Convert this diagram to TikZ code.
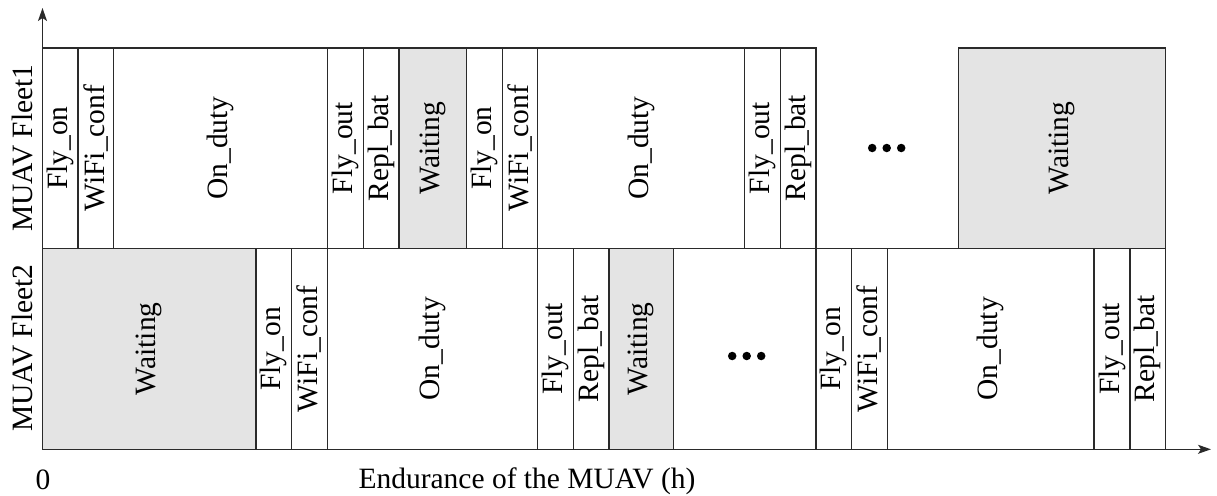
\documentclass[tikz,border=0pt]{standalone}
\usepackage{fontspec}
\setmainfont{Liberation Serif}
\usetikzlibrary{arrows.meta}
\definecolor{lineC}{HTML}{2A2A2A}
\definecolor{waitC}{HTML}{E4E4E4}
\newcommand\tseg[7]{%
  \node[segbox, fill=#6, minimum width={(#3-#2)*1pt}, minimum height={(#5-#4)*1pt}] (#1) at ({(#2+#3)/2},{(#4+#5)/2}) {};
  \node[seglabel] (#1t) at (#1.center) {#7};}
\newcommand\tdots[3]{%
  \node[dotc] (#1a) at ({#2-14.5},#3) {};
  \node[dotc] (#1b) at (#2,#3) {};
  \node[dotc] (#1c) at ({#2+14.5},#3) {};}
\begin{document}
\begin{tikzpicture}[x=1pt,y=-1pt,
  segbox/.style={draw=lineC, line width=1.4pt, inner sep=0pt, outer sep=0pt},
  seglabel/.style={rotate=90, inner sep=0pt, font=\fontsize{29.5}{31}\selectfont},
  plainlabel/.style={inner sep=0pt, font=\fontsize{29.5}{31}\selectfont},
  dotc/.style={circle, fill=black, inner sep=0pt, minimum size=8.5pt},
  axis/.style={draw=lineC, line width=1.4pt, -{Stealth[length=13pt,width=9pt,inset=3pt]}}]
\useasboundingbox (0,0) rectangle (1217,495);
% row 1
\tseg{a1}{42.5}{78}{48}{248.3}{white}{Fly\_on}
\tseg{a2}{78}{113.7}{48}{248.3}{white}{WiFi\_conf}
\tseg{a3}{113.7}{327.3}{48}{248.3}{white}{On\_duty}
\tseg{a4}{327.3}{363.3}{48}{248.3}{white}{Fly\_out}
\tseg{a5}{363.3}{399}{48}{248.3}{white}{Repl\_bat}
\tseg{a6}{399}{466.7}{48}{248.3}{waitC}{Waiting}
\tseg{a7}{466.7}{502.3}{48}{248.3}{white}{Fly\_on}
\tseg{a8}{502.3}{537.7}{48}{248.3}{white}{WiFi\_conf}
\tseg{a9}{537.7}{744.7}{48}{248.3}{white}{On\_duty}
\tseg{a10}{744.7}{780.3}{48}{248.3}{white}{Fly\_out}
\tseg{a11}{780.3}{816}{48}{248.3}{white}{Repl\_bat}
\tseg{a12}{958.7}{1165.7}{48}{248.3}{waitC}{Waiting}
\tdots{d1}{886.7}{148}
% row 2
\tseg{b1}{42.5}{256}{248.3}{449.3}{waitC}{Waiting}
\tseg{b2}{256}{291.7}{248.3}{449.3}{white}{Fly\_on}
\tseg{b3}{291.7}{327.3}{248.3}{449.3}{white}{WiFi\_conf}
\tseg{b4}{327.3}{537.7}{248.3}{449.3}{white}{On\_duty}
\tseg{b5}{537.7}{573.3}{248.3}{449.3}{white}{Fly\_out}
\tseg{b6}{573.3}{609}{248.3}{449.3}{white}{Repl\_bat}
\tseg{b7}{609}{673.3}{248.3}{449.3}{waitC}{Waiting}
\tseg{b8}{673.3}{816}{248.3}{449.3}{white}{}
\tseg{b9}{816}{851.7}{248.3}{449.3}{white}{Fly\_on}
\tseg{b10}{851.7}{887.3}{248.3}{449.3}{white}{WiFi\_conf}
\tseg{b11}{887.3}{1094}{248.3}{449.3}{white}{On\_duty}
\tseg{b12}{1094}{1130}{248.3}{449.3}{white}{Fly\_out}
\tseg{b13}{1130}{1165.7}{248.3}{449.3}{white}{Repl\_bat}
\tdots{d2}{746.7}{356}
% axes
\coordinate (origin) at (42.5,449.3);
\coordinate (ytip) at (42.5,8);
\coordinate (xtip) at (1211,449.3);
\draw[axis] (origin) -- (ytip);
\draw[axis] (origin) -- (xtip);
% labels
\node[seglabel] (fleet1) at (22,148) {MUAV Fleet1};
\node[seglabel] (fleet2) at (22,348) {MUAV Fleet2};
\node[plainlabel] (zero) at (43,480) {0};
\node[plainlabel] (xlab) at (527,481) {Endurance of the MUAV (h)};
\end{tikzpicture}
\end{document}
